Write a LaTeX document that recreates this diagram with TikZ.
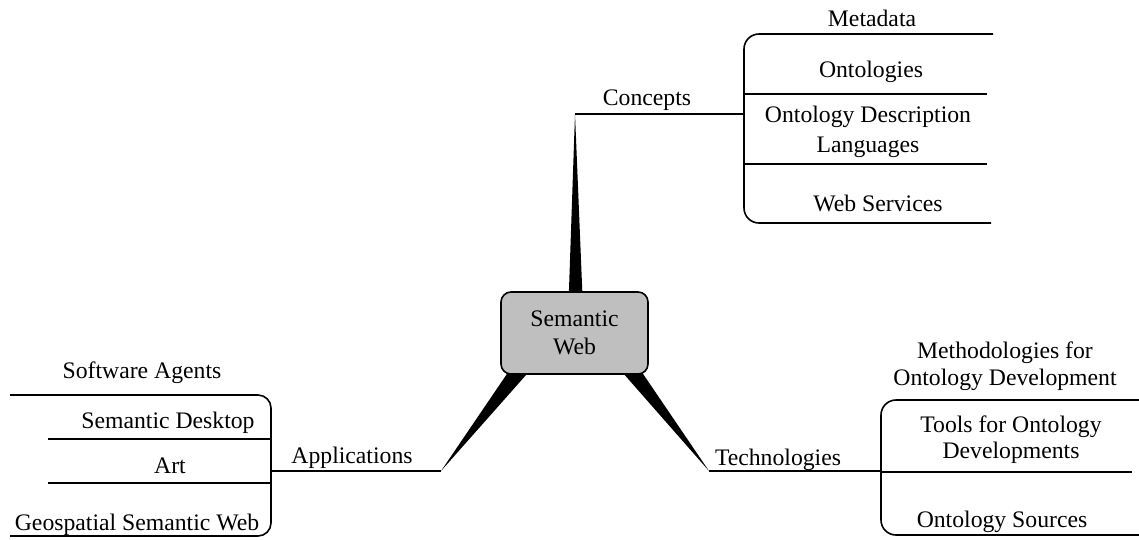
\documentclass[tikz,border=0pt]{standalone}
\usepackage{fontspec}
\setmainfont{Liberation Serif}
\begin{document}
\begin{tikzpicture}[x=1pt,y=-1pt,
  lbl/.style={anchor=base,inner sep=0pt,font=\fontsize{23.7}{28}\selectfont},
  ln/.style={line width=1.6pt},
  brk/.style={line width=1.6pt,rounded corners=15pt},
  wedge/.style={fill=black},
  box/.style={draw,line width=1.6pt,fill=gray!50,rounded corners=10pt,minimum width=147pt,minimum height=82pt,align=center,inner sep=0pt,font=\fontsize{23.7}{28}\selectfont}]
\useasboundingbox (0,0) rectangle (1139,539);
% branch end points
\coordinate (cT) at (575,114);
\coordinate (aT) at (441,471);
\coordinate (tT) at (709,471);
\coordinate (cJ) at (744,114);
\coordinate (aJ) at (271,471);
\coordinate (tJ) at (881,471);
% wedges (behind the central box)
\fill[wedge] (cT) -- (567.5,333) -- (584,333) -- cycle;
\fill[wedge] (aT) -- (530,340) -- (557,340) -- cycle;
\fill[wedge] (tT) -- (594,340) -- (620,340) -- cycle;
% central node
\node[box] (sw) at (574.5,333) {Semantic\\Web};
% connectors to brackets
\draw[ln] (cT) -- (cJ);
\draw[ln] (aT) -- (aJ);
\draw[ln] (tT) -- (tJ);
% Concepts bracket
\draw[brk] (993,34) -- (744,34) -- (744,223) -- (991,223);
\draw[ln] (744,94) -- (987,94);
\draw[ln] (744,164) -- (987,164);
% Applications bracket
\draw[brk,rounded corners=13pt] (10,395) -- (271,395) -- (271,536) -- (10,536);
\draw[ln] (48,439) -- (271,439);
\draw[ln] (48,483) -- (271,483);
% Technologies bracket
\draw[brk] (1139,400) -- (881,400) -- (881,535) -- (1139,535);
\draw[ln] (881,472) -- (1132,472);
% labels
\node[lbl] (concepts) at (647,105) {Concepts};
\node[lbl] (metadata) at (872,26) {Metadata};
\node[lbl] (ontologies) at (871,77) {Ontologies};
\node[lbl] (odl) at (868,122) {\fontsize{23.7}{30}\selectfont\begin{tabular}[t]{@{}c@{}}Ontology Description\\Languages\end{tabular}};
\node[lbl] (websvc) at (878,211) {Web Services};
\node[lbl] (apps) at (352,463) {Applications};
\node[lbl] (agents) at (142,378) {Software Agents};
\node[lbl] (desktop) at (168,428) {Semantic Desktop};
\node[lbl] (art) at (170,473) {Art};
\node[lbl] (geo) at (137,530) {Geospatial Semantic Web};
\node[lbl] (tech) at (778,465) {Technologies};
\node[lbl] (method) at (1005,358) {\fontsize{23.7}{27}\selectfont\begin{tabular}[t]{@{}c@{}}Methodologies for\\Ontology Development\end{tabular}};
\node[lbl] (tools) at (1011,432) {\fontsize{23.7}{26}\selectfont\begin{tabular}[t]{@{}c@{}}Tools for Ontology\\Developments\end{tabular}};
\node[lbl] (sources) at (1002,527) {Ontology Sources};
\end{tikzpicture}
\end{document}
